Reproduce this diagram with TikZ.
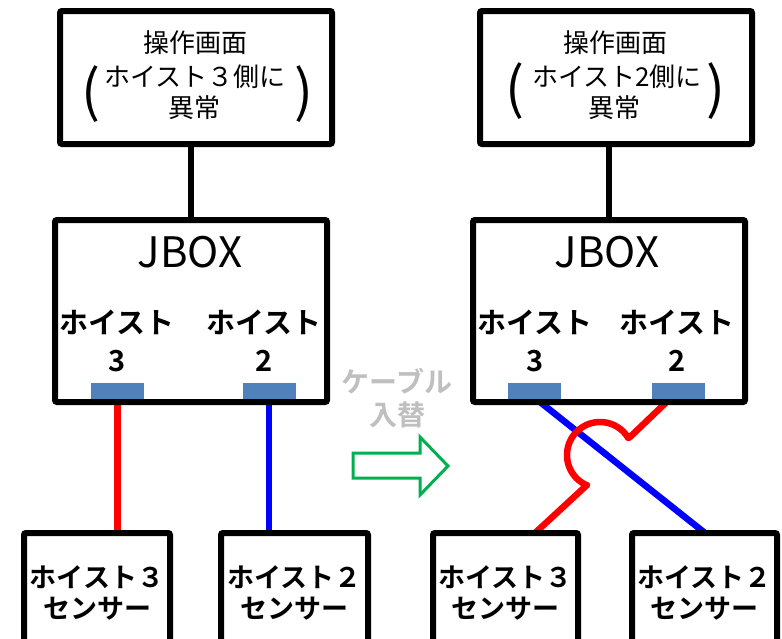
\documentclass[tikz,border=0pt]{standalone}
\usepackage{fontspec}
\setmainfont{Noto Sans CJK JP}[BoldFont={Noto Sans CJK JP Bold}]
\usetikzlibrary{backgrounds}
\definecolor{portblue}{RGB}{79,129,189}
\definecolor{arrgreen}{RGB}{0,176,80}
\definecolor{lgray}{RGB}{191,191,191}
\begin{document}
\begin{tikzpicture}[x=1pt,y=-1pt,
  box/.style={draw, line width=6pt, rounded corners=2pt, fill=white, inner sep=0pt},
  port/.style={fill=portblue, minimum width=53pt, minimum height=16pt, inner sep=0pt},
  conn/.style={line width=6pt},
  redwire/.style={draw=red, line width=6.5pt, line join=round},
  bluewire/.style={draw=blue, line width=6.5pt},
  toptxt/.style={inner sep=0pt, align=center, font=\fontsize{26}{32}\selectfont},
  paren/.style={inner sep=0pt, font=\fontsize{56}{56}\selectfont},
  jbtxt/.style={inner sep=0pt, font=\fontsize{42}{42}\selectfont},
  lbl/.style={inner sep=0pt, align=center, font=\bfseries\fontsize{29}{38}\selectfont},
  senstxt/.style={inner sep=0pt, align=center, font=\bfseries\fontsize{27}{31}\selectfont},
  swaptxt/.style={inner sep=0pt, align=center, text=lgray, font=\bfseries\fontsize{28}{33}\selectfont},
  hollowarrow/.style={draw=arrgreen, line width=3pt, fill=white}
]
\useasboundingbox (0,0) rectangle (782,638);
\clip (0,0) rectangle (782,638);

% ---------- left diagram ----------
\node[box, minimum width=272pt, minimum height=133pt] (tl) at (196,77.5) {};
\node[toptxt] (tlt1) at (195,43) {操作画面};
\node[toptxt] (tlt2) at (195,77) {ホイスト３側に};
\node[toptxt] (tlt3) at (194,108) {異常};
\node[paren] (tlpl) at (91,94) {(};
\node[paren] (tlpr) at (304,94) {)};

\node[box, minimum width=272pt, minimum height=182pt] (jl) at (191,311) {};
\node[jbtxt] (jlt) at (190,252) {JBOX};
\node[lbl] (jll3) at (117,341) {ホイスト\\3};
\node[lbl] (jll2) at (264,341) {ホイスト\\2};
\node[port] (lp3) at (117.5,391) {};
\node[port] (lp2) at (269,391) {};

\node[box, minimum width=146pt, minimum height=147pt] (ls3) at (97,606.5) {};
\node[senstxt] (ls3t) at (97,592.5) {ホイスト３\\センサー};
\node[box, minimum width=147pt, minimum height=147pt] (ls2) at (294.5,606.5) {};
\node[senstxt] (ls2t) at (294.5,592.5) {ホイスト２\\センサー};

% ---------- right diagram ----------
\node[box, minimum width=272pt, minimum height=133pt] (tr) at (616,77.5) {};
\node[toptxt] (trt1) at (615,43) {操作画面};
\node[toptxt] (trt2) at (617,77) {ホイスト2側に};
\node[toptxt] (trt3) at (614,108) {異常};
\node[paren] (trpl) at (515,91) {(};
\node[paren] (trpr) at (716,91) {)};

\node[box, minimum width=272pt, minimum height=182pt] (jr) at (609,311) {};
\node[jbtxt] (jrt) at (607,252) {JBOX};
\node[lbl] (jrl3) at (535,341) {ホイスト\\3};
\node[lbl] (jrl2) at (677,341) {ホイスト\\2};
\node[port] (rp3) at (534.5,391) {};
\node[port] (rp2) at (678.5,391) {};

\node[box, minimum width=145pt, minimum height=147pt] (rs3) at (505.5,606.5) {};
\node[senstxt] (rs3t) at (505.5,592.5) {ホイスト３\\センサー};
\node[box, minimum width=145pt, minimum height=147pt] (rs2) at (704.5,606.5) {};
\node[senstxt] (rs2t) at (704.5,592.5) {ホイスト２\\センサー};

% ---------- middle: swap label and arrow ----------
\node[swaptxt] (swap) at (397,398) {ケーブル\\入替};
\draw[hollowarrow] (353,453) -- (420,453) -- (420,437) -- (448,466)
  -- (420,495) -- (420,478) -- (353,478) -- cycle;

% ---------- connectors (behind boxes) ----------
\coordinate (bEnd) at (705,533);
\coordinate (rA) at (630,437);
\coordinate (rB) at (587,485);
\coordinate (rEnd) at (535,533);
\begin{scope}[on background layer]
  \draw[conn] (jl.north |- tl.south) -- (jl.north);
  \draw[conn] (jr.north |- tr.south) -- (jr.north);
  \draw[redwire] (lp3.south) -- (lp3.south |- ls3.north);
  \draw[bluewire] (lp2.south) -- (lp2.south |- ls2.north);
  \draw[bluewire] ([xshift=2pt]rp3.south) -- (bEnd);
  \draw[redwire] ([xshift=-9pt]rp2.south) -- (rA)
    -- plot[domain=-31:-247, samples=60] ({600+33*cos(\x)},{455+33*sin(\x)})
    -- (rB) -- (rEnd);
\end{scope}
\end{tikzpicture}
\end{document}
